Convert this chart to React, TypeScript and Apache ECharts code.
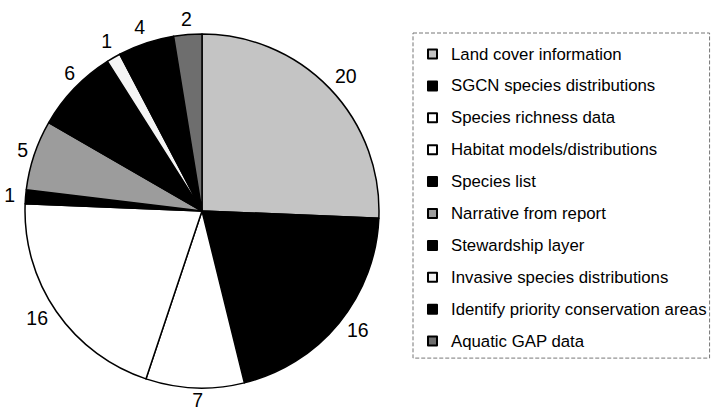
import React, { useEffect, useRef } from "react";
import * as echarts from "echarts";

const categories = [
  "Land cover information",
  "SGCN species distributions",
  "Species richness data",
  "Habitat models/distributions",
  "Species list",
  "Narrative from report",
  "Stewardship layer",
  "Invasive species distributions",
  "Identify priority conservation areas",
  "Aquatic GAP data",
];
const values = [20, 16, 7, 16, 1, 5, 6, 1, 4, 2];
const sliceColors = [
  "#c4c4c4",
  "#000000",
  "#ffffff",
  "#ffffff",
  "#000000",
  "#9c9c9c",
  "#000000",
  "#f4f4f4",
  "#000000",
  "#6e6e6e",
];
// label placement tweaks (layout only)
const labelLen = [18, 11.3, 12.2, 11.4, 22.5, 15.2, 22.4, 19.3, 16.5, 16.1];
const labelShift = [-7.7, -0.9, -8.8, -1.1, -11.9, -8.3, -16.9, -8.2, -4.4, -5.5];

export default function App() {
  const ref = useRef<HTMLDivElement>(null);
  useEffect(() => {
    if (!ref.current) return;
    const chart = echarts.init(ref.current, undefined, { renderer: "svg" });
    chart.setOption({
      animation: false,
      backgroundColor: "#ffffff",
      legend: {
        orient: "vertical",
        left: 413,
        top: 33,
        padding: [12, 3, 8, 14],
        borderColor: "#777",
        borderWidth: 1,
        borderType: "dashed",
        itemWidth: 9,
        itemHeight: 9,
        itemGap: 13.9,
        icon: "rect",
        textStyle: {
          fontFamily: "Liberation Sans, Arial, sans-serif",
          fontSize: 16.8,
          color: "#000",
          lineHeight: 18,
          padding: [0, 0, 0, 9],
        },
        data: categories,
      },
      series: [
        {
          type: "pie",
          center: [202, 211],
          radius: 177,
          startAngle: 90,
          clockwise: true,
          avoidLabelOverlap: false,
          itemStyle: { borderColor: "#000", borderWidth: 1.5 },
          label: {
            show: true,
            position: "outside",
            formatter: "{c}",
            color: "#000",
            fontFamily: "Liberation Sans, Arial, sans-serif",
            fontSize: 19.5,
          },
          labelLine: { show: false, length: 10, length2: 0 },
          emphasis: { disabled: true },
          data: categories.map((name, i) => ({
            name,
            value: values[i],
            itemStyle: { color: sliceColors[i] },
            label: { distanceToLabelLine: labelShift[i] },
            labelLine: { show: false, length: labelLen[i], length2: 0 },
          })),
        },
      ],
    });
    return () => chart.dispose();
  }, []);
  return <div ref={ref} style={{ width: 712, height: 410, position: "absolute", left: 0, top: 0 }} />;
}
